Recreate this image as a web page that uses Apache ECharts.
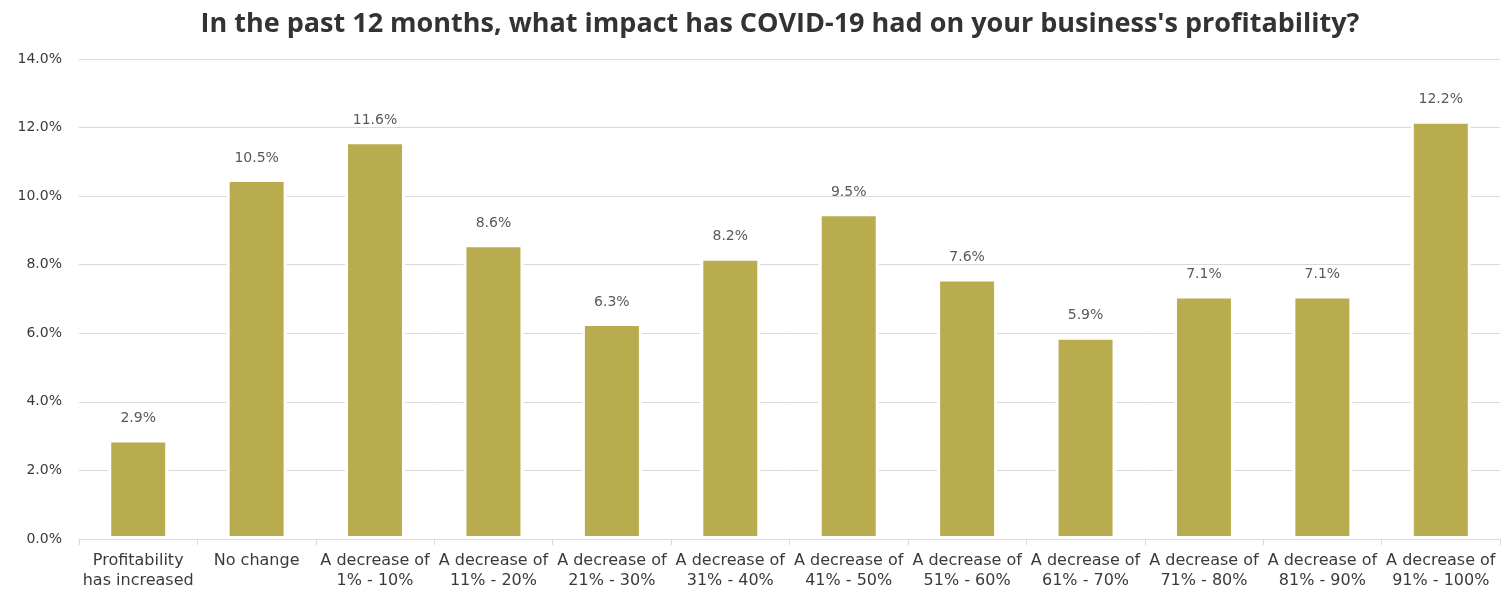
<!DOCTYPE html>
<html><head><meta charset="utf-8">
<script src="https://cdn.jsdelivr.net/npm/echarts@6/dist/echarts.min.js"></script>
<style>html,body{margin:0;padding:0;background:#fff}#c{width:1510px;height:593px}</style>
</head><body><div id="c"></div>
<script>
const title = "In the past 12 months, what impact has COVID-19 had on your business's profitability?";
const categories = [
  "Profitability\nhas increased", "No change",
  "A decrease of\n1% - 10%", "A decrease of\n11% - 20%", "A decrease of\n21% - 30%",
  "A decrease of\n31% - 40%", "A decrease of\n41% - 50%", "A decrease of\n51% - 60%",
  "A decrease of\n61% - 70%", "A decrease of\n71% - 80%", "A decrease of\n81% - 90%",
  "A decrease of\n91% - 100%"
];
const values = [2.9, 10.5, 11.6, 8.6, 6.3, 8.2, 9.5, 7.6, 5.9, 7.1, 7.1, 12.2];
const yMin = 0, yMax = 14, yStep = 2;

const chart = echarts.init(document.getElementById('c'), null, {renderer: 'canvas'});
chart.setOption({
  animation: false,
  title: {
    text: title, left: 775, textAlign: 'center', top: 6,
    textStyle: {fontFamily: 'Open Sans', fontWeight: 'bold', fontSize: 27, color: '#333333'}
  },
  grid: {left: 79, right: 10, top: 59, bottom: 54, containLabel: false},
  xAxis: {
    type: 'category', data: categories,
    axisLine: {lineStyle: {color: '#d9d9d9', width: 1}},
    axisTick: {show: true, length: 6, lineStyle: {color: '#d9d9d9'}},
    axisLabel: {interval: 0, color: '#3a3a3a', fontFamily: 'DejaVu Sans', fontSize: 16, lineHeight: 20, margin: 12}
  },
  yAxis: {
    type: 'value', min: yMin, max: yMax, interval: yStep,
    axisLine: {show: false}, axisTick: {show: false},
    splitLine: {lineStyle: {color: '#d9d9d9', width: 1}},
    axisLabel: {formatter: v => v.toFixed(1) + '%', color: '#3a3a3a', fontFamily: 'DejaVu Sans', fontSize: 14, margin: 17}
  },
  series: [{
    type: 'bar', data: values, barWidth: 60,
    itemStyle: {color: '#b9ac4e', borderColor: '#ffffff', borderWidth: 3},
    label: {show: true, position: 'top', distance: 14, formatter: p => p.value.toFixed(1) + '%',
      color: '#595959', fontFamily: 'DejaVu Sans', fontSize: 14}
  }]
});
</script></body></html>
